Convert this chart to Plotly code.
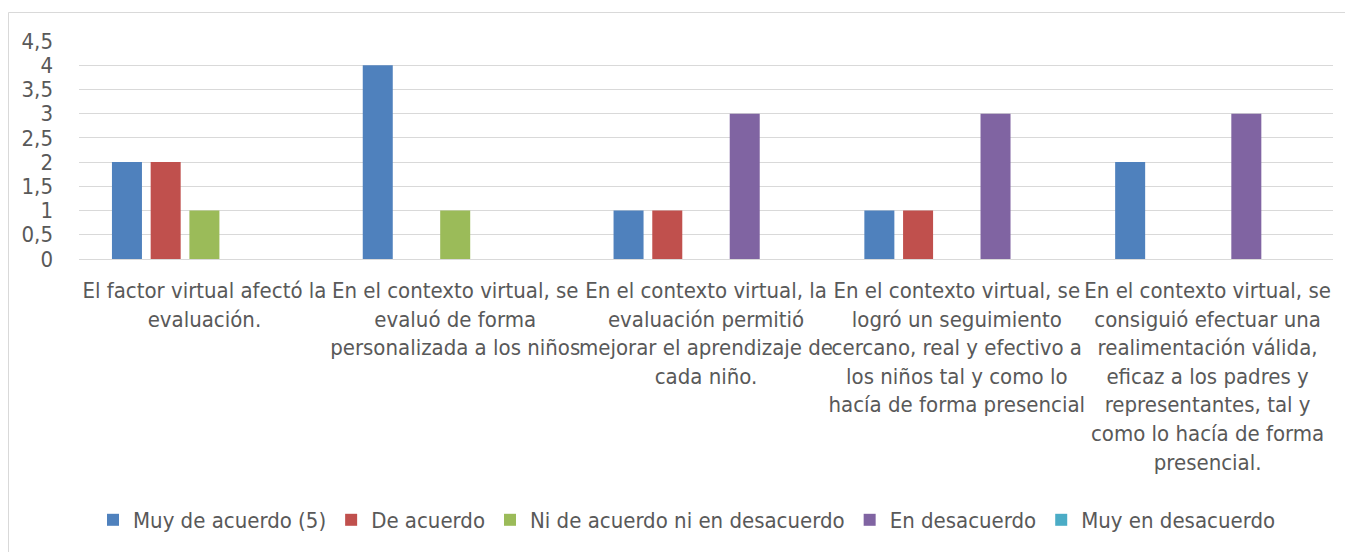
import plotly.graph_objects as go

categories = [
    "El factor virtual afectó la<br>evaluación.",
    "En el contexto virtual, se<br>evaluó de forma<br>personalizada a los niños",
    "En el contexto virtual, la<br>evaluación permitió<br>mejorar el aprendizaje de<br>cada niño.",
    "En el contexto virtual, se<br>logró un seguimiento<br>cercano, real y efectivo a<br>los niños tal y como lo<br>hacía de forma presencial",
    "En el contexto virtual, se<br>consiguió efectuar una<br>realimentación válida,<br>eficaz a los padres y<br>representantes, tal y<br>como lo hacía de forma<br>presencial.",
]

series_names = ["Muy de acuerdo (5)", "De acuerdo", "Ni de acuerdo ni en desacuerdo",
                "En desacuerdo", "Muy en desacuerdo"]
muy_de_acuerdo = [2, 4, 1, 1, 2]
de_acuerdo = [2, 0, 1, 1, 0]
ni_ni = [1, 1, 0, 0, 0]
en_desacuerdo = [0, 0, 3, 3, 3]
muy_en_desacuerdo = [0, 0, 0, 0, 0]
series_values = [muy_de_acuerdo, de_acuerdo, ni_ni, en_desacuerdo, muy_en_desacuerdo]
colors = ["#4F81BD", "#C0504D", "#9BBB59", "#8064A2", "#4BACC6"]

y_tickvals = [0, 0.5, 1, 1.5, 2, 2.5, 3, 3.5, 4, 4.5]
y_ticktext = ["0", "0,5", "1", "1,5", "2", "2,5", "3", "3,5", "4", "4,5"]

FONT = "Liberation Sans Narrow, Arial Narrow, DejaVu Sans Condensed, sans-serif"
TXT = "#595959"
GRID = "#d9d9d9"

fig = go.Figure()
for name, vals, col in zip(series_names, series_values, colors):
    fig.add_trace(go.Bar(x=categories, y=vals, name=name,
                         marker=dict(color=col, line=dict(width=0))))

# page has an 8px body margin; figure sized to fit the window
O = 8
W, H = 1353 - O, 552 - O
L, R, T, B = 79 - O, 20, 41 - O, 293
pw, ph = W - L - R, H - T - B

def px2x(px):
    return (px - O - L) / pw

def py2y(py):
    return (H - B - (py - O)) / ph

fig.update_layout(
    width=W, height=H,
    margin=dict(l=L, r=R, t=T, b=B, autoexpand=False),
    paper_bgcolor="white", plot_bgcolor="white",
    barmode="group", bargap=0.228, bargroupgap=0.225,
    font=dict(family=FONT, size=22, color=TXT),
    showlegend=True,
    legend=dict(orientation="h", xref="container", yref="container",
                x=(687 - O) / W, xanchor="center", y=1 - (520 - O) / H, yanchor="middle",
                font=dict(family=FONT, size=22, color=TXT), traceorder="normal"),
    xaxis=dict(tickangle=0, showgrid=False, showline=False, ticks="", automargin=False,
               ticklabelstandoff=16,
               tickfont=dict(family=FONT, size=22, color=TXT)),
    yaxis=dict(range=[0, 4.5], tickvals=y_tickvals, ticktext=y_ticktext,
               showgrid=True, gridcolor=GRID, gridwidth=1, automargin=False,
               zeroline=True, zerolinecolor=GRID, zerolinewidth=1,
               ticks="", ticklabelstandoff=25,
               tickfont=dict(family=FONT, size=22, color=TXT)),
    shapes=[dict(type="rect", xref="paper", yref="paper",
                 x0=px2x(8.5), x1=px2x(1362), y0=py2y(12.5), y1=py2y(562),
                 line=dict(color=GRID, width=1), fillcolor="rgba(0,0,0,0)", layer="below")],
)

fig.write_html("out.html")
